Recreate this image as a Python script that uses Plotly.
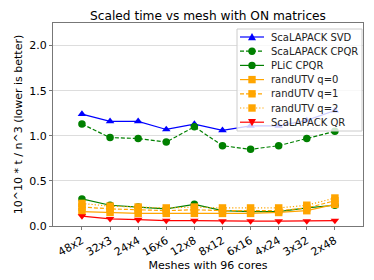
import plotly.graph_objects as go

meshes = ["48x2", "32x3", "24x4", "16x6", "12x8", "8x12", "6x16", "4x24", "3x32", "2x48"]
svd = [1.24, 1.16, 1.16, 1.07, 1.13, 1.06, 1.11, 1.11, 1.17, 1.28]
sca_cpqr = [1.13, 0.98, 0.97, 0.93, 1.10, 0.89, 0.85, 0.89, 0.97, 1.05]
plic_cpqr = [0.30, 0.23, 0.21, 0.19, 0.24, 0.17, 0.16, 0.16, 0.20, 0.23]
utv_q0 = [0.16, 0.15, 0.14, 0.14, 0.14, 0.14, 0.14, 0.15, 0.17, 0.24]
utv_q1 = [0.21, 0.19, 0.18, 0.17, 0.18, 0.17, 0.17, 0.17, 0.20, 0.28]
utv_q2 = [0.25, 0.22, 0.21, 0.20, 0.21, 0.20, 0.20, 0.20, 0.23, 0.31]
sca_qr = [0.11, 0.08, 0.07, 0.06, 0.06, 0.055, 0.055, 0.055, 0.055, 0.06]

DASH = "4px,2px"
DOT = "1.2px,2px"
series = [
    ("ScaLAPACK SVD", svd, "blue", "solid", "triangle-up"),
    ("ScaLAPACK CPQR", sca_cpqr, "green", DASH, "circle"),
    ("PLiC CPQR", plic_cpqr, "green", "solid", "circle"),
    ("randUTV q=0", utv_q0, "orange", "solid", "square"),
    ("randUTV q=1", utv_q1, "orange", DASH, "square"),
    ("randUTV q=2", utv_q2, "orange", DOT, "square"),
    ("ScaLAPACK QR", sca_qr, "red", "solid", "triangle-down"),
]

# window is 374x280; the page body has an 8px default margin
OFF = 8
WIN_W, WIN_H = 374, 280
W, H = WIN_W - OFF, WIN_H - OFF
# plot area in window pixel coordinates
L, R, T, B = 53, 363, 23, 226


def px(x):
    return (x - L) / (R - L)


def py(y):
    return (B - y) / (B - T)


fig = go.Figure()
for name, vals, color, dash, sym in series:
    fig.add_trace(go.Scatter(
        x=list(range(len(meshes))), y=vals, name=name, mode="lines+markers",
        line=dict(color=color, dash=dash, width=1.2),
        marker=dict(color=color, symbol=sym, size=7.5, line=dict(width=0)),
        showlegend=False,
    ))

# matplotlib-style legend built from layout shapes and annotations
shapes = [dict(type="rect", xref="paper", yref="paper",
               x0=px(237), x1=px(362), y0=py(131), y1=py(29),
               line=dict(color="#cccccc", width=1),
               fillcolor="rgba(255,255,255,0.8)", layer="above")]
annotations = []
y0 = 37.0
step = 14.2
for i, (name, vals, color, dash, sym) in enumerate(series):
    cy = y0 + i * step
    shapes.append(dict(type="line", xref="paper", yref="paper",
                       x0=px(240), x1=px(264), y0=py(cy), y1=py(cy),
                       line=dict(color=color, width=1.2, dash=dash), layer="above"))
    cx = 252
    r = 3.7
    if sym == "circle":
        shapes.append(dict(type="circle", xref="paper", yref="paper",
                           x0=px(cx - r), x1=px(cx + r), y0=py(cy + r), y1=py(cy - r),
                           fillcolor=color, line=dict(width=0), layer="above"))
    elif sym == "square":
        shapes.append(dict(type="rect", xref="paper", yref="paper",
                           x0=px(cx - r), x1=px(cx + r), y0=py(cy + r), y1=py(cy - r),
                           fillcolor=color, line=dict(width=0), layer="above"))
    else:
        if sym == "triangle-up":
            pts = [(cx - 4, cy + 3.3), (cx + 4, cy + 3.3), (cx, cy - 4)]
        else:
            pts = [(cx - 4, cy - 3.3), (cx + 4, cy - 3.3), (cx, cy + 4)]
        path = "M {} {} L {} {} L {} {} Z".format(*[v for p in pts for v in (px(p[0]), py(p[1]))])
        shapes.append(dict(type="path", xref="paper", yref="paper", path=path,
                           fillcolor=color, line=dict(width=0), layer="above"))
    annotations.append(dict(text=name, xref="paper", yref="paper", x=px(269), y=py(cy),
                            xanchor="left", yanchor="middle", showarrow=False,
                            font=dict(size=10, color="#222222")))

# chart title as a paper annotation, centred over the plot area
annotations.append(dict(text="Scaled time vs mesh with ON matrices", xref="paper", yref="paper",
                        x=0.5, y=py(16), xanchor="center", yanchor="middle",
                        showarrow=False, font=dict(size=12.2, color="black")))

fig.update_layout(
    width=W, height=H,
    margin=dict(l=L - OFF, r=WIN_W - R, t=T - OFF, b=WIN_H - B),
    paper_bgcolor="white", plot_bgcolor="white",
    font=dict(family="DejaVu Sans", size=11, color="black"),
    showlegend=False,
    shapes=shapes,
    annotations=annotations,
    xaxis=dict(
        tickmode="array", tickvals=list(range(len(meshes))), ticktext=meshes,
        range=[-1.03, 10], tickangle=-30, showgrid=False, zeroline=False,
        showline=True, linecolor="#777777", linewidth=1, mirror=True,
        ticks="outside", ticklen=3, tickcolor="#777777", automargin=False,
        title=dict(text="Meshes with 96 cores", font=dict(size=11), standoff=2),
        tickfont=dict(size=11),
    ),
    yaxis=dict(
        range=[0, 2.25], tickvals=[0, 0.5, 1.0, 1.5, 2.0],
        ticktext=["0.0", "0.5", "1.0", "1.5", "2.0"],
        showgrid=True, gridcolor="#dddddd", zeroline=False,
        showline=True, linecolor="#777777", linewidth=1, mirror=True,
        ticks="outside", ticklen=3, tickcolor="#777777", automargin=False,
        title=dict(text="10^10 * t / n^3 (lower is better)", font=dict(size=11), standoff=4),
        tickfont=dict(size=11),
    ),
)

fig.write_html("out.html")
